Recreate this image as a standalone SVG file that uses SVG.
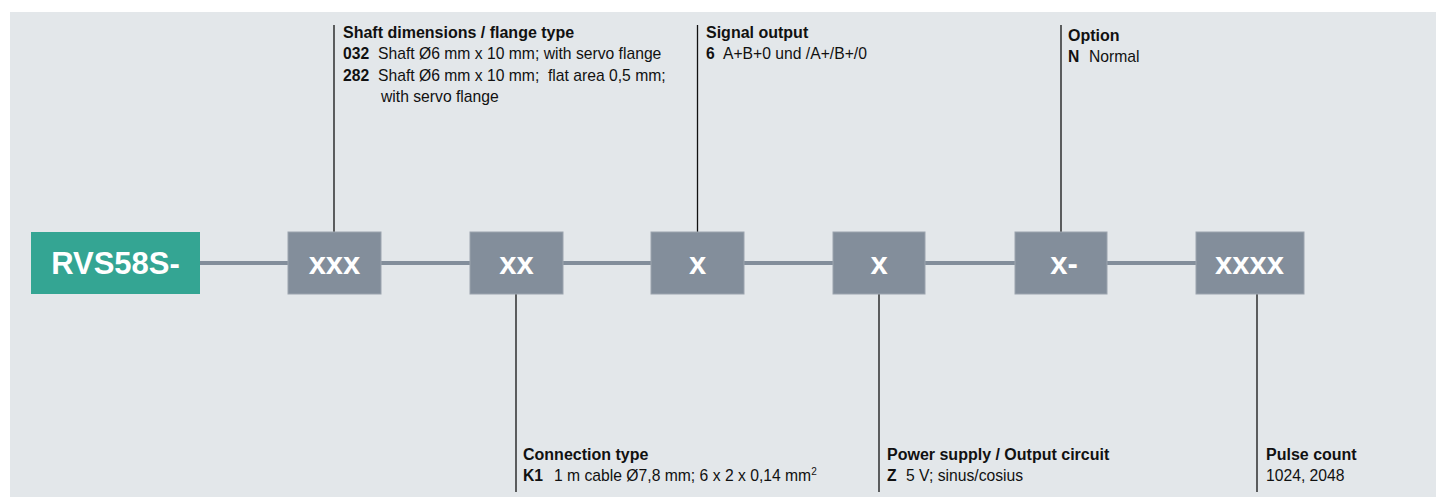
<svg xmlns="http://www.w3.org/2000/svg" width="1436" height="497" viewBox="0 0 1436 497">
<style>
.bg{fill:#e3e7ea}
.seg{fill:#838e9b;stroke:#9ba4ae;stroke-width:1}
.head{fill:#34a593}
.bt{font-family:"Liberation Sans",Arial,sans-serif;font-weight:bold;font-size:31px;fill:#ffffff;text-anchor:middle}
.h{font-family:"Liberation Sans",Arial,sans-serif;font-weight:bold;font-size:16px;fill:#111111}
.t{font-family:"Liberation Sans",Arial,sans-serif;font-size:15.7px;fill:#111111}
.b{font-weight:bold}
.lead{stroke:#111111;stroke-width:1.3;fill:none}
.bar{stroke:#838e9b;stroke-width:4;fill:none}
</style>
<rect class="bg" x="10" y="12" width="1426" height="485"/>
<g id="connectors">
<line class="bar" x1="200" y1="263" x2="1196" y2="263"/>
<line class="lead" x1="334" y1="25" x2="334" y2="232"/>
<line class="lead" x1="697.5" y1="25" x2="697.5" y2="232"/>
<line class="lead" x1="1061" y1="25" x2="1061" y2="232"/>
<line class="lead" x1="516" y1="294" x2="516" y2="492"/>
<line class="lead" x1="879" y1="294" x2="879" y2="492"/>
<line class="lead" x1="1257" y1="294" x2="1257" y2="492"/>
</g>
<g id="node-rvs58s">
<rect class="head" x="31" y="232" width="169" height="62"/>
<text class="bt" x="115.5" y="274">RVS58S-</text>
</g>
<g id="node-xxx">
<rect class="seg" x="288" y="232" width="93" height="62"/>
<text class="bt" x="334.5" y="274">xxx</text>
</g>
<g id="node-xx">
<rect class="seg" x="470" y="232" width="93" height="62"/>
<text class="bt" x="516.5" y="274">xx</text>
</g>
<g id="node-x1">
<rect class="seg" x="651" y="232" width="93" height="62"/>
<text class="bt" x="697.5" y="274">x</text>
</g>
<g id="node-x2">
<rect class="seg" x="833" y="232" width="92" height="62"/>
<text class="bt" x="879" y="274">x</text>
</g>
<g id="node-x3">
<rect class="seg" x="1015" y="232" width="92" height="62"/>
<text class="bt" x="1064" y="274">x-</text>
</g>
<g id="node-xxxx">
<rect class="seg" x="1196" y="232" width="108" height="62"/>
<text class="bt" x="1249.5" y="274">xxxx</text>
</g>
<g id="label-shaft">
<text class="h" x="343" y="37.5">Shaft dimensions / flange type</text>
<text class="t" x="343" y="59"><tspan class="b">032</tspan></text>
<text class="t" x="378" y="59">Shaft Ø6 mm x 10 mm; with servo flange</text>
<text class="t" x="343" y="80.5"><tspan class="b">282</tspan></text>
<text class="t" x="378" y="80.5" xml:space="preserve">Shaft Ø6 mm x 10 mm;  flat area 0,5 mm;</text>
<text class="t" x="381" y="102">with servo flange</text>
</g>
<g id="label-signal">
<text class="h" x="706" y="37.5">Signal output</text>
<text class="t" x="706" y="59"><tspan class="b">6</tspan></text>
<text class="t" x="723" y="59">A+B+0 und /A+/B+/0</text>
</g>
<g id="label-option">
<text class="h" x="1068" y="40.5">Option</text>
<text class="t" x="1068" y="62"><tspan class="b">N</tspan></text>
<text class="t" x="1089" y="62">Normal</text>
</g>
<g id="label-connection">
<text class="h" x="523" y="460">Connection type</text>
<text class="t" x="523" y="481"><tspan class="b">K1</tspan></text>
<text class="t" x="554" y="481">1 m cable Ø7,8 mm; 6 x 2 x 0,14 mm<tspan font-size="10px" dy="-6">2</tspan></text>
</g>
<g id="label-power">
<text class="h" x="887" y="460">Power supply / Output circuit</text>
<text class="t" x="887" y="481"><tspan class="b">Z</tspan></text>
<text class="t" x="906" y="481">5 V; sinus/cosius</text>
</g>
<g id="label-pulse">
<text class="h" x="1266" y="460">Pulse count</text>
<text class="t" x="1266" y="481">1024, 2048</text>
</g>
</svg>
